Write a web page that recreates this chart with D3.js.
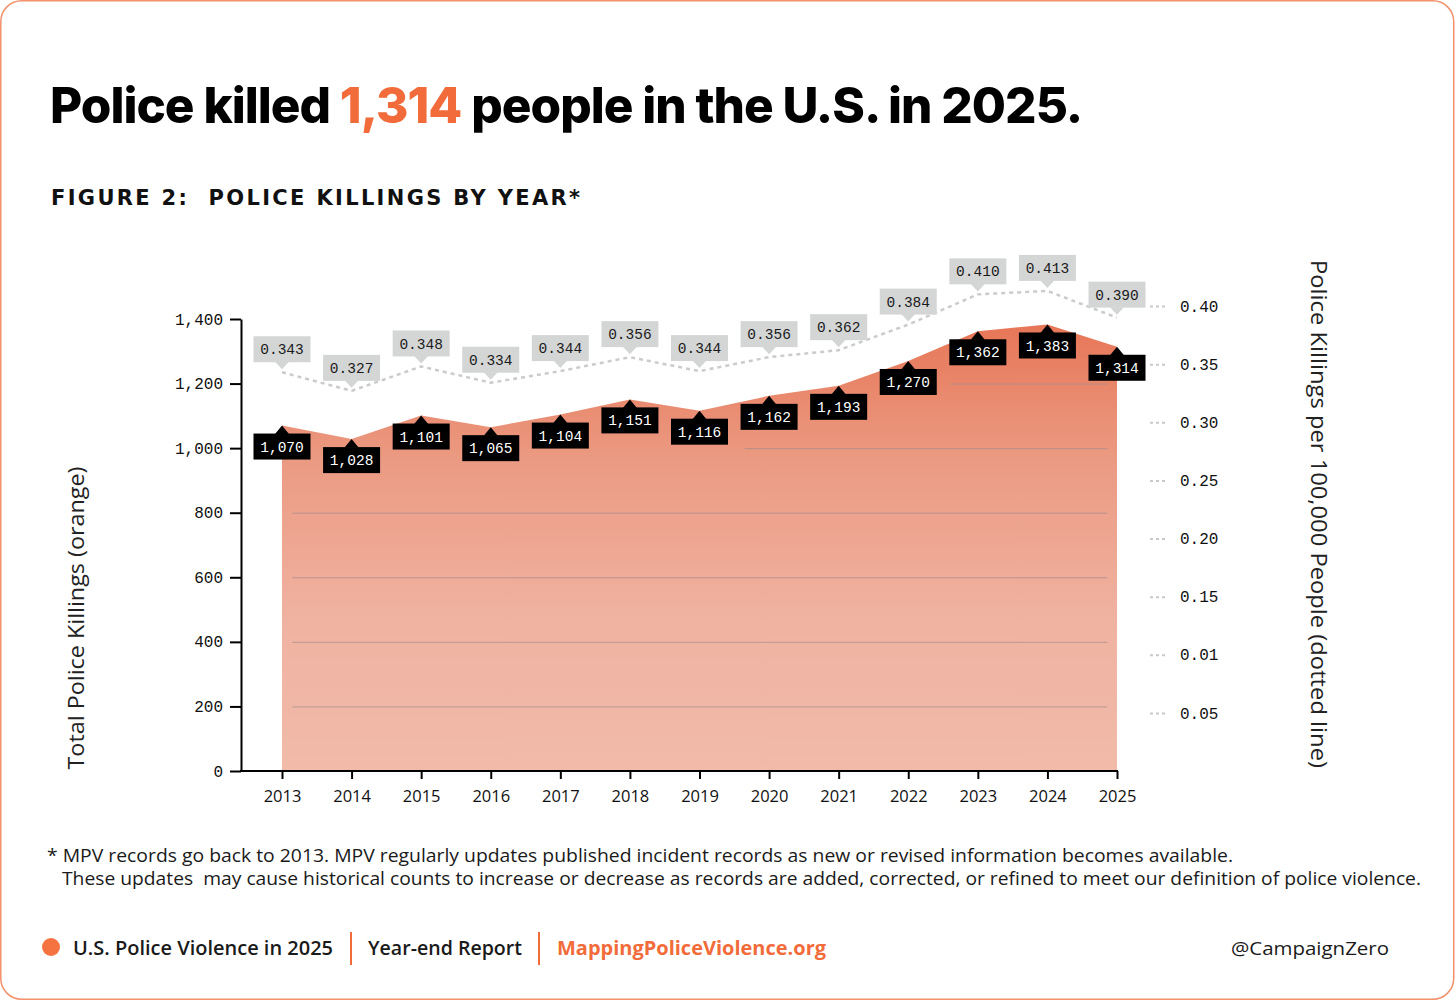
<!DOCTYPE html>
<html>
<head>
<meta charset="utf-8">
<script src="https://cdn.jsdelivr.net/npm/d3@7"></script>
<style>
  html, body { margin: 0; padding: 0; background: #fff; }
  svg { display: block; }
</style>
</head>
<body>
<svg id="chart" width="1456" height="1001"></svg>
<script>
// data
const years = [2013, 2014, 2015, 2016, 2017, 2018, 2019, 2020, 2021, 2022, 2023, 2024, 2025];
const killings = [1070, 1028, 1101, 1065, 1104, 1151, 1116, 1162, 1193, 1270, 1362, 1383, 1314];
const ratePer100k = [0.343, 0.327, 0.348, 0.334, 0.344, 0.356, 0.344, 0.356, 0.362, 0.384, 0.410, 0.413, 0.390];
const leftTicks = [0, 200, 400, 600, 800, 1000, 1200, 1400];
const rightTicks = [0.40, 0.35, 0.30, 0.25, 0.20, 0.15, 0.10, 0.05];
const rightTickLabels = ["0.40", "0.35", "0.30", "0.25", "0.20", "0.15", "0.01", "0.05"];
const gridTicks = [200, 400, 600, 800, 1000, 1200];

const ORANGE = "#f26b3a";
const MONO = "'Liberation Mono', 'DejaVu Sans Mono', monospace";
const SANS = "'Open Sans', 'Noto Sans', sans-serif";

const svg = d3.select("#chart");

// card border
svg.append("rect")
    .attr("x", 0.75).attr("y", 0.75)
    .attr("width", 1453).attr("height", 998.5)
    .attr("rx", 21)
    .attr("fill", "#fff")
    .attr("stroke", "#f2926d")
    .attr("stroke-width", 1.5);

// title
const title = svg.append("text")
    .attr("x", 50).attr("y", 123)
    .style("font-family", "Inter, sans-serif")
    .style("font-weight", 800)
    .style("font-size", "50px")
    .style("letter-spacing", "-1px")
    .attr("fill", "#000");
title.append("tspan").text("Police killed ");
title.append("tspan").attr("fill", ORANGE).text(d3.format(",")(killings[killings.length - 1]));
title.append("tspan").text(" people in the U.S. in 2025.");
// fit title to its width in the reference
const tw = title.node().getComputedTextLength();
title.style("font-size", (50 * 1033 / tw) + "px");

svg.append("text")
    .attr("x", 51).attr("y", 205)
    .attr("textLength", 529)
    .attr("lengthAdjust", "spacing")
    .style("font-family", "'DejaVu Sans', sans-serif")
    .style("font-weight", 700)
    .style("font-size", "21px")
    .style("white-space", "pre")
    .attr("fill", "#111")
    .text("FIGURE 2:  POLICE KILLINGS BY YEAR*");

// scales
const x = d3.scaleLinear().domain([2013, 2025]).range([282, 1117]);
const yL = d3.scaleLinear().domain([0, 1400]).range([771, 319]);
const yR = d3.scaleLinear().domain([0, 0.40]).range([771, 306]);

const rows = years.map((yr, i) => ({ year: yr, count: killings[i], rate: ratePer100k[i] }));

// gradient for the area
const defs = svg.append("defs");
const grad = defs.append("linearGradient")
    .attr("id", "areaGrad")
    .attr("gradientUnits", "userSpaceOnUse")
    .attr("x1", 0).attr("x2", 0)
    .attr("y1", 290).attr("y2", 771);
grad.append("stop").attr("offset", 0).attr("stop-color", "#e66d4c");
grad.append("stop").attr("offset", 0.35).attr("stop-color", "#eb9a82");
grad.append("stop").attr("offset", 0.7).attr("stop-color", "#f0b3a2");
grad.append("stop").attr("offset", 1).attr("stop-color", "#f1baa9");

const area = d3.area()
    .x(d => x(d.year))
    .y0(yL(0))
    .y1(d => yL(d.count));

svg.append("path")
    .datum(rows)
    .attr("d", area)
    .attr("fill", "url(#areaGrad)");

// gridlines sit on top of the area, the upper ones only on the right part
const gridFrom = { 1000: 2019.65, 1200: 2022.6 };
svg.append("g")
    .selectAll("line")
    .data(gridTicks)
    .join("line")
    .attr("x1", d => x(gridFrom[d] || 2013.15))
    .attr("x2", x(2024.86))
    .attr("y1", d => yL(d) + 0.5)
    .attr("y2", d => yL(d) + 0.5)
    .attr("stroke", "#a48f89")
    .attr("stroke-opacity", 0.75)
    .attr("stroke-width", 1);

// left axis
const gLeft = svg.append("g")
    .attr("transform", "translate(241,0)")
    .call(d3.axisLeft(yL)
        .tickValues(leftTicks)
        .tickFormat(d3.format(","))
        .tickSize(11)
        .tickSizeOuter(0)
        .tickPadding(7));
gLeft.selectAll("path, line").attr("stroke", "#000").attr("stroke-width", 2);
gLeft.selectAll("text")
    .style("font-family", MONO)
    .style("font-size", "16px")
    .attr("fill", "#111");

// bottom axis
const gBottom = svg.append("g")
    .attr("transform", "translate(0,771)")
    .call(d3.axisBottom(x)
        .tickValues(years)
        .tickFormat(d3.format("d"))
        .tickSize(8)
        .tickPadding(11));
gBottom.select(".domain").remove();
gBottom.selectAll("line").attr("stroke", "#000").attr("stroke-width", 2);
gBottom.selectAll("text")
    .style("font-family", SANS)
    .style("font-size", "16.5px")
    .attr("fill", "#111");
svg.append("line")
    .attr("x1", 240).attr("x2", 1118)
    .attr("y1", 771).attr("y2", 771)
    .attr("stroke", "#000").attr("stroke-width", 2);

// right axis, dotted ticks
const gRight = svg.append("g")
    .attr("transform", "translate(1150,0)")
    .call(d3.axisRight(yR)
        .tickValues(rightTicks)
        .tickFormat((d, i) => rightTickLabels[i])
        .tickSize(18)
        .tickPadding(12));
gRight.select(".domain").remove();
gRight.selectAll("line")
    .attr("stroke", "#c9c9c9")
    .attr("stroke-width", 2)
    .attr("stroke-dasharray", "3,3");
gRight.selectAll("text")
    .style("font-family", MONO)
    .style("font-size", "16px")
    .attr("fill", "#111");

// rate line (dotted)
const line = d3.line()
    .x(d => x(d.year))
    .y(d => yR(d.rate));
svg.append("path")
    .datum(rows)
    .attr("d", line)
    .attr("fill", "none")
    .attr("stroke", "#cbcbcb")
    .attr("stroke-width", 2.5)
    .attr("stroke-dasharray", "4,4");

// grey rate labels above the line
const boxW = 57, boxH = 26;
const rateLab = svg.append("g")
    .selectAll("g")
    .data(rows)
    .join("g")
    .attr("transform", d => `translate(${x(d.year)},${yR(d.rate)})`);
rateLab.append("rect")
    .attr("x", -boxW / 2).attr("y", -10 - boxH)
    .attr("width", boxW).attr("height", boxH)
    .attr("fill", "#d4d6d6");
rateLab.append("path")
    .attr("d", "M-7,-10.5L0,-3L7,-10.5Z")
    .attr("fill", "#d4d6d6");
rateLab.append("text")
    .attr("y", -10 - boxH / 2)
    .attr("dy", "0.35em")
    .attr("text-anchor", "middle")
    .style("font-family", MONO)
    .style("font-size", "14.5px")
    .attr("fill", "#1a1a1a")
    .text(d => d3.format(".3f")(d.rate));

// black count labels below the area edge
const countLab = svg.append("g")
    .selectAll("g")
    .data(rows)
    .join("g")
    .attr("transform", d => `translate(${x(d.year)},${yL(d.count)})`);
countLab.append("rect")
    .attr("x", -boxW / 2).attr("y", 8)
    .attr("width", boxW).attr("height", boxH)
    .attr("fill", "#000");
countLab.append("path")
    .attr("d", "M-7,8.5L0,0L7,8.5Z")
    .attr("fill", "#000");
countLab.append("text")
    .attr("y", 8 + boxH / 2)
    .attr("dy", "0.35em")
    .attr("text-anchor", "middle")
    .style("font-family", MONO)
    .style("font-size", "14.5px")
    .attr("fill", "#fff")
    .text(d => d3.format(",")(d.count));

// axis titles
svg.append("text")
    .attr("transform", "translate(84,618) rotate(-90)")
    .attr("text-anchor", "middle")
    .attr("textLength", 303)
    .attr("lengthAdjust", "spacingAndGlyphs")
    .style("font-family", SANS)
    .style("font-size", "22px")
    .attr("fill", "#222")
    .text("Total Police Killings (orange)");

svg.append("text")
    .attr("transform", "translate(1311,514) rotate(90)")
    .attr("text-anchor", "middle")
    .attr("textLength", 508)
    .attr("lengthAdjust", "spacingAndGlyphs")
    .style("font-family", SANS)
    .style("font-size", "22px")
    .attr("fill", "#222")
    .text("Police Killings per 100,000 People (dotted line)");

// footnote
const note = svg.append("g")
    .style("font-family", SANS)
    .style("font-size", "17.5px")
    .attr("fill", "#1a1a1a");
note.append("text")
    .attr("x", 47).attr("y", 862)
    .attr("textLength", 1186)
    .attr("lengthAdjust", "spacingAndGlyphs")
    .text("* MPV records go back to 2013. MPV regularly updates published incident records as new or revised information becomes available.");
note.append("text")
    .attr("x", 62).attr("y", 885)
    .attr("textLength", 1359)
    .attr("lengthAdjust", "spacingAndGlyphs")
    .style("white-space", "pre")
    .text("These updates  may cause historical counts to increase or decrease as records are added, corrected, or refined to meet our definition of police violence.");

// footer
const foot = svg.append("g")
    .style("font-family", SANS)
    .style("font-size", "19px");
foot.append("circle")
    .attr("cx", 51).attr("cy", 947).attr("r", 9)
    .attr("fill", "#f47340");
foot.append("text")
    .attr("x", 73).attr("y", 955)
    .attr("textLength", 260)
    .attr("lengthAdjust", "spacingAndGlyphs")
    .style("font-weight", 600)
    .attr("fill", "#1a1a1a")
    .text("U.S. Police Violence in 2025");
foot.append("line")
    .attr("x1", 351).attr("x2", 351).attr("y1", 932).attr("y2", 965)
    .attr("stroke", ORANGE).attr("stroke-width", 2);
foot.append("text")
    .attr("x", 368).attr("y", 955)
    .attr("textLength", 154)
    .attr("lengthAdjust", "spacingAndGlyphs")
    .style("font-weight", 600)
    .attr("fill", "#1a1a1a")
    .text("Year-end Report");
foot.append("line")
    .attr("x1", 539).attr("x2", 539).attr("y1", 932).attr("y2", 965)
    .attr("stroke", ORANGE).attr("stroke-width", 2);
foot.append("text")
    .attr("x", 557).attr("y", 955)
    .attr("textLength", 269)
    .attr("lengthAdjust", "spacingAndGlyphs")
    .style("font-weight", 700)
    .attr("fill", ORANGE)
    .text("MappingPoliceViolence.org");
foot.append("text")
    .attr("x", 1231).attr("y", 955)
    .attr("textLength", 158)
    .attr("lengthAdjust", "spacingAndGlyphs")
    .style("font-weight", 400)
    .attr("fill", "#1a1a1a")
    .text("@CampaignZero");
</script>
</body>
</html>
